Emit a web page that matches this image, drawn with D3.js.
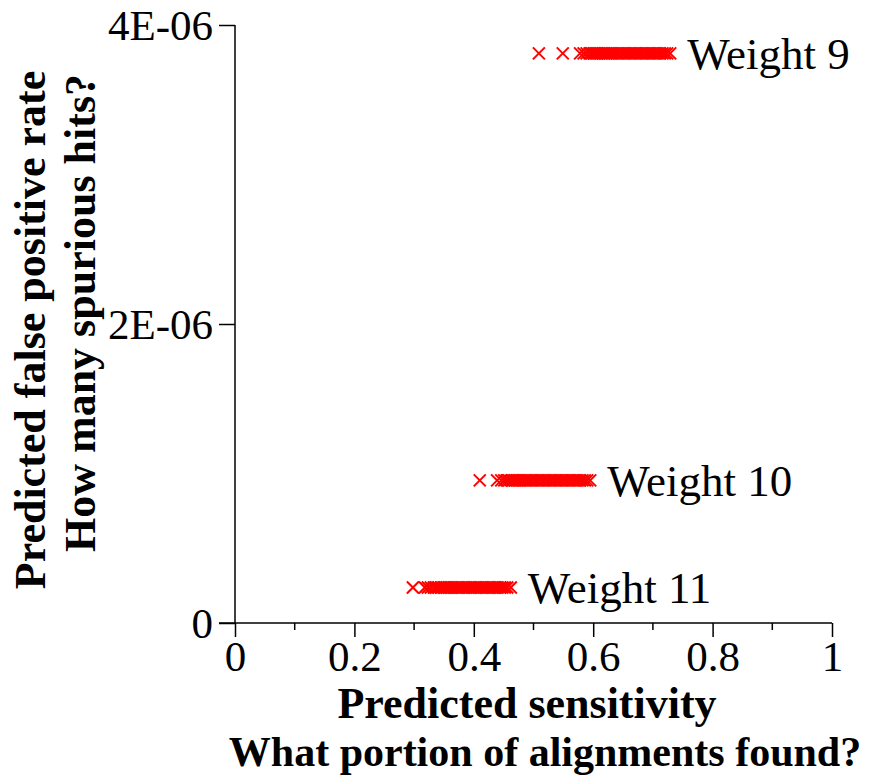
<!DOCTYPE html>
<html>
  <head>
    <meta http-equiv="Content-Type" content="text/html;charset=utf-8">
    <title>Sensitivity vs false positive rate</title>
    <script src="https://cdn.jsdelivr.net/npm/d3@7"></script>
    <style type="text/css">
body {
    margin: 0;
    background: #fff;
}
text {
    font-family: "Liberation Serif", "Times New Roman", serif;
    fill: #000;
}
.axis path, .axis line {
    stroke: #000;
    stroke-width: 1.5px;
    fill: none;
}
.mark {
    stroke: #f00;
    stroke-width: 2px;
}
    </style>
  </head>
  <body>
    <script type="text/javascript">
// data
var seriesNames = ['Weight 9', 'Weight 10', 'Weight 11'];
var seriesFpr = [3.81e-6, 9.54e-7, 2.38e-7];
var sensW9 = [0.509, 0.549, 0.578, 0.584, 0.589, 0.594, 0.598, 0.601, 0.604, 0.607,
              0.610, 0.613, 0.616, 0.619, 0.622, 0.625, 0.628, 0.632, 0.636, 0.640,
              0.644, 0.648, 0.652, 0.656, 0.660, 0.664, 0.668, 0.672, 0.676, 0.680,
              0.684, 0.688, 0.692, 0.696, 0.700, 0.704, 0.708, 0.712, 0.716, 0.720,
              0.724, 0.729];
var sensW10 = [0.410, 0.439, 0.446, 0.451, 0.455, 0.459, 0.463, 0.466, 0.469, 0.472,
               0.475, 0.478, 0.482, 0.486, 0.490, 0.494, 0.498, 0.502, 0.506, 0.510,
               0.514, 0.518, 0.522, 0.526, 0.530, 0.534, 0.538, 0.542, 0.546, 0.550,
               0.554, 0.558, 0.562, 0.566, 0.570, 0.574, 0.578, 0.582, 0.586, 0.590,
               0.595];
var sensW11 = [0.298, 0.318, 0.323, 0.328, 0.333, 0.337, 0.341, 0.345, 0.349, 0.352,
               0.355, 0.358, 0.361, 0.364, 0.368, 0.372, 0.376, 0.380, 0.384, 0.388,
               0.392, 0.396, 0.400, 0.404, 0.408, 0.412, 0.416, 0.420, 0.424, 0.428,
               0.432, 0.436, 0.440, 0.444, 0.448, 0.452, 0.456, 0.462];
var sensAll = [sensW9, sensW10, sensW11];

var xTicks = [0, 0.2, 0.4, 0.6, 0.8, 1],
    xMinor = [0.1, 0.3, 0.5, 0.7, 0.9],
    yTicks = [0, 2e-6, 4e-6],
    yTickLabels = ['0', '2E-06', '4E-06'];

var W = 869, H = 779;
var x = d3.scaleLinear().domain([0, 1]).range([235, 832]);
var y = d3.scaleLinear().domain([0, 4e-6]).range([623, 25]);

var svg = d3.select('body').append('svg')
    .attr('width', W)
    .attr('height', H);

// x axis
var xAxis = svg.append('g')
    .attr('class', 'axis')
    .attr('transform', 'translate(0,' + y(0) + ')')
    .call(d3.axisBottom(x).tickValues(xTicks).tickSize(14).tickSizeOuter(0)
        .tickFormat(function(d) { return d3.format('')(d) }));
xAxis.attr('font-family', null);
xAxis.selectAll('text')
    .attr('font-size', 43)
    .attr('y', 48)
    .attr('dy', null);
xAxis.selectAll('line.minor')
    .data(xMinor)
  .enter().append('line')
    .attr('class', 'minor')
    .attr('x1', function(d) { return x(d) })
    .attr('x2', function(d) { return x(d) })
    .attr('y1', 0)
    .attr('y2', 7);

// y axis
var yAxis = svg.append('g')
    .attr('class', 'axis')
    .attr('transform', 'translate(' + x(0) + ',0)')
    .call(d3.axisLeft(y).tickValues(yTicks).tickSize(16).tickSizeOuter(0)
        .tickFormat(function(d, i) { return yTickLabels[i] }));
yAxis.attr('font-family', null);
yAxis.selectAll('text')
    .attr('font-size', 43)
    .attr('x', -22)
    .attr('dy', '0.34em');
yAxis.select('path.domain').attr('d', 'M0,' + y(4e-6) + 'V' + (y(0) + 1));
xAxis.select('path.domain').attr('d', 'M' + (x(0) - 16) + ',0H' + x(1));

// markers
var r = 6;
var groups = svg.selectAll('g.series')
    .data(sensAll)
  .enter().append('g')
    .attr('class', 'series');

groups.selectAll('path.mark')
    .data(function(d, i) { return d.map(function(v) { return [v, seriesFpr[i]] }) })
  .enter().append('path')
    .attr('class', 'mark')
    .attr('d', function(d) {
        var cx = x(d[0]), cy = y(d[1]);
        return 'M' + (cx - r) + ',' + (cy - r) + 'L' + (cx + r) + ',' + (cy + r) +
               'M' + (cx - r) + ',' + (cy + r) + 'L' + (cx + r) + ',' + (cy - r);
    });

// series labels
svg.selectAll('text.lbl')
    .data(seriesNames)
  .enter().append('text')
    .attr('class', 'lbl')
    .attr('x', function(d, i) { return x(d3.max(sensAll[i])) + 17 })
    .attr('y', function(d, i) { return y(seriesFpr[i]) })
    .attr('dy', '0.34em')
    .attr('font-size', 45)
    .text(function(d) { return d });

// axis titles
svg.append('text')
    .attr('x', 527)
    .attr('y', 718)
    .attr('text-anchor', 'middle')
    .attr('font-size', 44)
    .attr('font-weight', 'bold')
    .text('Predicted sensitivity');
svg.append('text')
    .attr('x', 545)
    .attr('y', 766)
    .attr('text-anchor', 'middle')
    .attr('font-size', 42)
    .attr('font-weight', 'bold')
    .text('What portion of alignments found?');

svg.append('text')
    .attr('transform', 'translate(45,330) rotate(-90)')
    .attr('text-anchor', 'middle')
    .attr('font-size', 44)
    .attr('font-weight', 'bold')
    .text('Predicted false positive rate');
svg.append('text')
    .attr('transform', 'translate(95,313) rotate(-90)')
    .attr('text-anchor', 'middle')
    .attr('font-size', 44)
    .attr('font-weight', 'bold')
    .text('How many spurious hits?');
    </script>
  </body>
</html>
